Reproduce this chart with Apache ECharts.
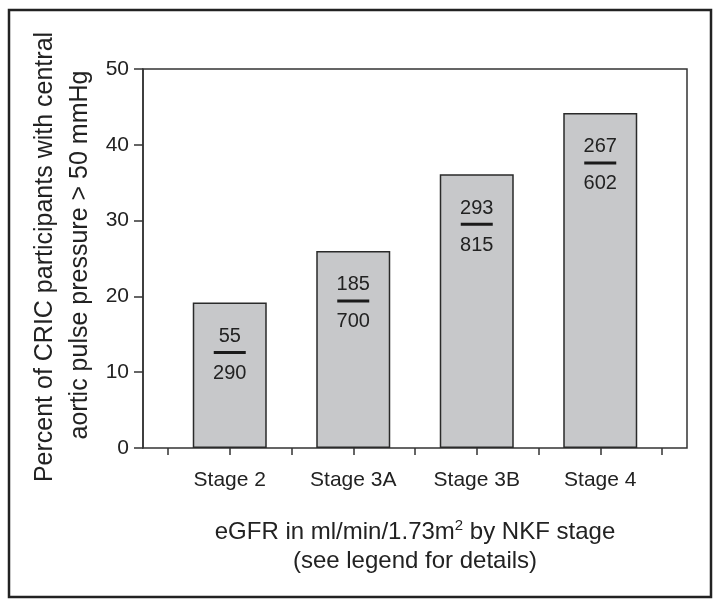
<!DOCTYPE html>
<html><head><meta charset="utf-8">
<script src="https://cdn.jsdelivr.net/npm/echarts@6/dist/echarts.min.js"></script>
<style>html,body{margin:0;padding:0;background:#fff;}#c{width:721px;height:608px;}</style>
</head><body><div id="c"></div>
<script>
const categories = ['Stage 2', 'Stage 3A', 'Stage 3B', 'Stage 4'];
const percents = [19.2, 26.0, 36.1, 44.2];
const numerators = [55, 185, 293, 267];
const denominators = [290, 700, 815, 602];
const yTicks = [0, 10, 20, 30, 40, 50];

const FONT = 'Liberation Sans, Arial, sans-serif';
const chart = echarts.init(document.getElementById('c'), null, {renderer: 'canvas'});
const gridTop = 69, gridBottom = 608 - 448;
chart.setOption({
  animation: false,
  backgroundColor: '#fff',
  grid: [
    {left: 143, right: 721 - 687, top: gridTop, bottom: gridBottom, show: true, borderColor: '#333', borderWidth: 1.5, backgroundColor: 'transparent'},
    {left: 168, right: 721 - 662, top: gridTop, bottom: gridBottom}
  ],
  xAxis: [
    {gridIndex: 0, type: 'value', min: 0, max: 1, show: false},
    {gridIndex: 1, type: 'category', data: categories, position: 'bottom',
      axisLine: {show: false},
      axisTick: {show: true, inside: false, length: 7, interval: 0, lineStyle: {color: '#333', width: 1.5}},
      axisLabel: {show: false}},
    {gridIndex: 1, type: 'category', data: categories, position: 'bottom',
      axisLine: {show: false},
      axisTick: {show: true, alignWithLabel: true, length: 7, interval: 0, lineStyle: {color: '#333', width: 1.5}},
      axisLabel: {show: true, interval: 0, margin: 22, fontSize: 21, color: '#222', fontFamily: FONT}}
  ],
  yAxis: [
    {gridIndex: 0, type: 'value', min: 0, max: 50, interval: 10,
      axisLine: {show: true, lineStyle: {color: '#333', width: 1.5}},
      axisTick: {show: true, length: 9, lineStyle: {color: '#333', width: 1.5}},
      axisLabel: {fontSize: 21, color: '#222', margin: 14, fontFamily: FONT,
        formatter: v => yTicks.includes(v) ? String(v) : ''},
      splitLine: {show: false}},
    {gridIndex: 1, type: 'value', min: 0, max: 50, interval: 10, show: false, splitLine: {show: false}}
  ],
  series: [{
    type: 'bar',
    xAxisIndex: 2, yAxisIndex: 1,
    data: percents,
    barWidth: 74,
    itemStyle: {color: '#c7c8ca', borderColor: '#2a2a2a', borderWidth: 1.5},
    label: {
      show: true, position: 'insideTop', distance: 22,
      formatter: p => '{n|' + numerators[p.dataIndex] + '}\n{l|}\n{d|' + denominators[p.dataIndex] + '}',
      rich: {
        n: {fontSize: 20, color: '#222', fontFamily: FONT, lineHeight: 24, align: 'center'},
        l: {width: 32, height: 3, backgroundColor: '#1a1a1a', lineHeight: 8, align: 'center'},
        d: {fontSize: 20, color: '#222', fontFamily: FONT, lineHeight: 34, align: 'center'}
      }
    }
  }],
  graphic: [
    {type: 'rect', shape: {x: 9, y: 10, width: 702, height: 587}, style: {fill: 'none', stroke: '#222', lineWidth: 2.5}, z: 10},
    {type: 'text', x: 45, y: 257, rotation: Math.PI / 2,
      style: {text: 'Percent of CRIC participants with central', fontSize: 25, fontFamily: FONT, fill: '#222', align: 'center', verticalAlign: 'middle'}},
    {type: 'text', x: 80, y: 255, rotation: Math.PI / 2,
      style: {text: 'aortic pulse pressure > 50 mmHg', fontSize: 25, fontFamily: FONT, fill: '#222', align: 'center', verticalAlign: 'middle'}},
    {type: 'text', x: 415, y: 532,
      style: {text: 'eGFR in ml/min/1.73m{sup|2} by NKF stage', fontSize: 24, fontFamily: FONT, fill: '#222', align: 'center', verticalAlign: 'middle',
        rich: {sup: {fontSize: 15, fontFamily: FONT, fill: '#222', padding: [0, 0, 12, 0]}}}},
    {type: 'text', x: 415, y: 561,
      style: {text: '(see legend for details)', fontSize: 24, fontFamily: FONT, fill: '#222', align: 'center', verticalAlign: 'middle'}}
  ]
});
</script>
</body></html>
